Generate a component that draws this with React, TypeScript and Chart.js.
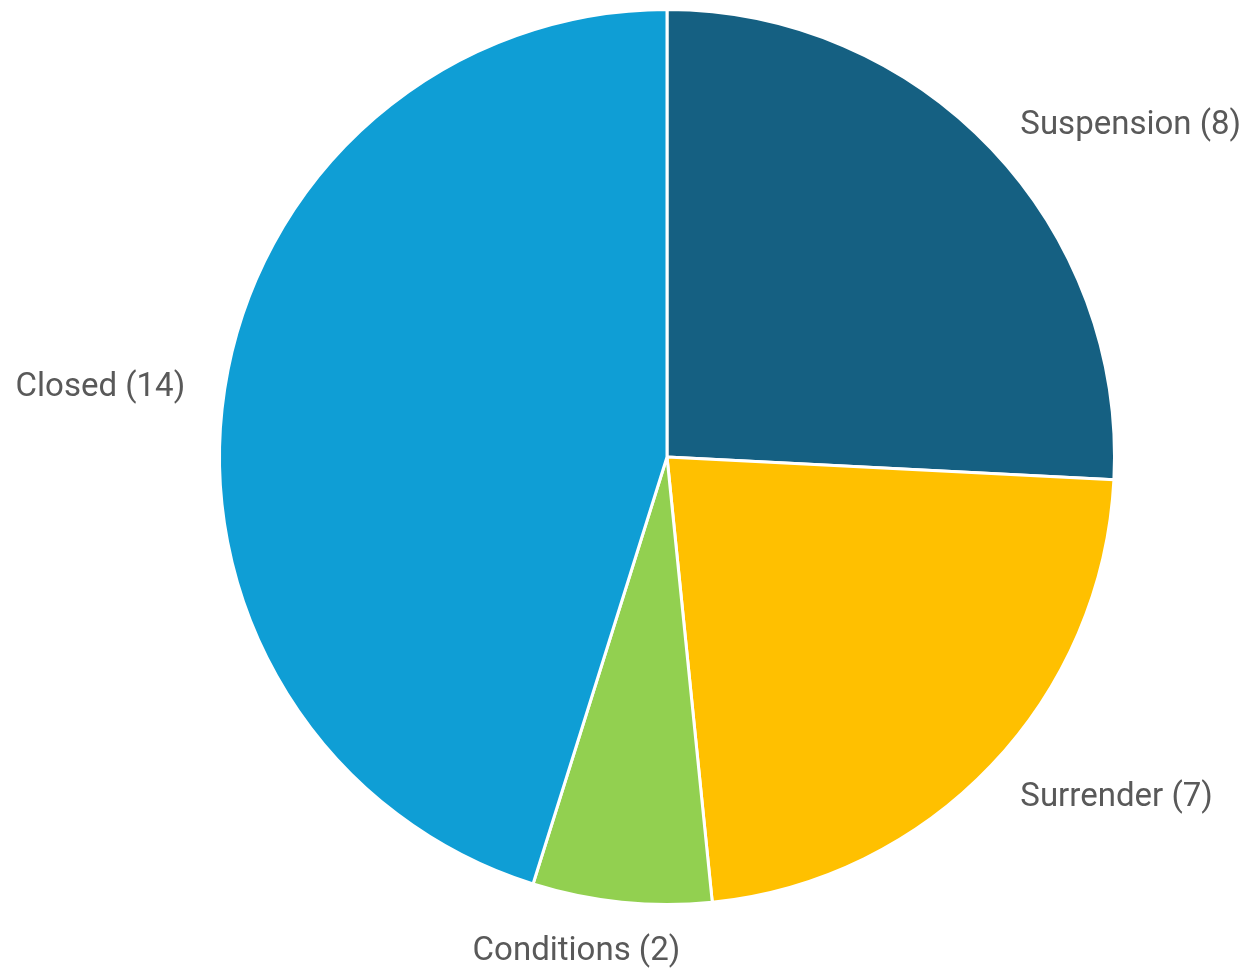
import React, { useEffect, useRef } from "react";
import { Chart, registerables } from "chart.js";

Chart.register(...registerables);

const categories: string[] = ["Suspension", "Surrender", "Conditions", "Closed"];
const counts: number[] = [8, 7, 2, 14];
const sliceColors: string[] = ["#156082", "#FFC000", "#92D050", "#0F9ED5"];

const outsideLabels = {
  id: "outsideLabels",
  afterDatasetsDraw(chart: any) {
    const ctx = chart.ctx;
    const meta = chart.getDatasetMeta(0);
    ctx.save();
    ctx.font = '33px Roboto, sans-serif';
    ctx.fillStyle = "#595959";
    meta.data.forEach((arc: any, i: number) => {
      const { x, y, startAngle, endAngle, outerRadius } = arc.getProps(
        ["x", "y", "startAngle", "endAngle", "outerRadius"],
        true
      );
      const text = `${chart.data.labels[i]} (${counts[i]})`;
      const w = ctx.measureText(text).width;
      const mid = (startAngle + endAngle) / 2;
      const dx = Math.cos(mid);
      const dy = Math.sin(mid);
      const vertical = Math.abs(dy) > 0.75;
      const r = outerRadius + (vertical ? 33 : 40);
      let px = x + dx * r;
      let py = y + dy * r;
      const centered = Math.abs(dx) <= 0.3;
      if (centered) px += dx * w * 2;
      if (!vertical) py += 5;
      ctx.textAlign = dx > 0.3 ? "left" : dx < -0.3 ? "right" : "center";
      ctx.textBaseline = !vertical ? "middle" : dy > 0 ? "top" : "bottom";
      ctx.fillText(text, px, py);
    });
    ctx.restore();
  },
};

export default function App() {
  const canvasRef = useRef<HTMLCanvasElement | null>(null);

  useEffect(() => {
    document.body.style.margin = "0";
    const canvas = canvasRef.current;
    if (!canvas) return;
    const chart = new Chart(canvas, {
      type: "pie",
      data: {
        labels: categories,
        datasets: [
          {
            data: counts,
            backgroundColor: sliceColors,
            borderColor: "#ffffff",
            borderWidth: 3,
          },
        ],
      },
      options: {
        animation: false,
        responsive: false,
        maintainAspectRatio: false,
        layout: { padding: { left: 218, right: 127, top: 8, bottom: 64 } },
        plugins: {
          legend: { display: false },
          tooltip: { enabled: false },
        },
      },
      plugins: [outsideLabels],
    });
    return () => chart.destroy();
  }, []);

  return (
    <div style={{ width: 1243, height: 970, background: "#ffffff" }}>
      <canvas ref={canvasRef} width={1243} height={970} style={{ display: "block" }} />
    </div>
  );
}
